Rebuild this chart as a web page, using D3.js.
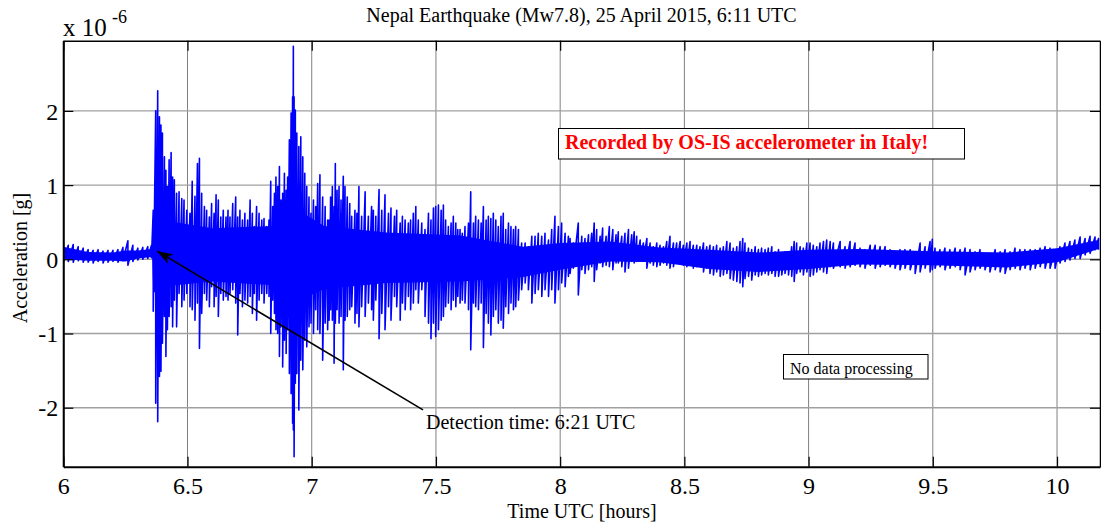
<!DOCTYPE html>
<html><head><meta charset="utf-8">
<script src="https://cdn.jsdelivr.net/npm/d3@7"></script>
<style>
html,body{margin:0;padding:0;background:#fff;}
svg{display:block;font-family:"Liberation Serif","Times New Roman",Times,serif;}
</style>
</head><body>
<svg id="c" width="1101" height="524"></svg>
<script>
// ---------------- DATA (acceleration in units of 1e-6 g, time in UTC hours) ----------------
const xTicks = [6, 6.5, 7, 7.5, 8, 8.5, 9, 9.5, 10];
const yTicks = [-2, -1, 0, 1, 2];
const xTickLabels = ["6", "6.5", "7", "7.5", "8", "8.5", "9", "9.5", "10"];
const yTickLabels = ["-2", "-1", "0", "1", "2"];

// envelope of the recorded trace: sample time, local max, local min
const traceT = [
  6.000,6.020,6.040,6.060,6.080,6.100,6.120,6.140,6.160,6.180,6.200,6.220,6.240,6.260,6.280,6.300,6.320,6.340,6.355,
  6.362,6.372,6.380,6.387,6.393,6.399,6.407,6.413,6.419,6.426,
  6.434,6.440,6.447,6.456,6.466,6.477,6.486,6.497,6.510,6.519,
  6.530,6.540,6.548,6.557,6.568,6.577,6.588,6.597,6.607,6.615,
  6.624,6.634,6.644,6.655,6.663,6.671,6.682,6.694,6.702,6.711,
  6.721,6.731,6.742,6.752,6.761,6.769,6.778,6.788,6.799,6.808,
  6.819,6.828,6.835,6.843,6.850,6.856,6.863,6.870,6.876,6.883,
  6.890,6.897,6.903,6.910,6.917,6.923,6.926,6.929,6.934,6.940,
  6.948,6.956,6.964,6.972,6.980,6.989,6.997,7.007,7.016,7.024,
  7.033,7.044,7.054,7.064,
  7.070,7.076,7.083,7.090,7.095,7.102,7.110,7.118,7.127,7.134,
  7.143,7.153,7.161,7.174,7.182,7.190,7.201,7.215,7.228,7.241,
  7.248,7.258,7.271,7.282,7.295,7.309,7.319,7.333,7.342,7.356,
  7.365,7.376,7.389,7.398,7.409,7.419,7.429,7.443,7.456,7.470,
  7.480,7.490,7.499,7.510,7.521,7.530,7.539,7.550,7.561,7.570,
  7.580,7.588,7.597,7.606,7.617,7.631,7.640,7.651,7.660,7.671,
  7.682,7.691,7.702,7.711,7.721,7.731,7.741,7.751,7.762,7.771,
  7.781,7.792,7.802,7.812,7.821,7.832,7.845,7.859,7.872,7.886,
  7.899,7.912,7.926,7.939,7.953,7.966,7.979,7.993,8.006,8.020,
  8.033,
  8.040,8.053,8.073,8.087,8.100,8.114,8.127,8.137,8.147,8.161,
  8.171,8.185,8.198,8.212,8.225,8.234,8.248,8.261,8.275,8.288,
  8.298,8.308,8.322,8.335,8.349,8.362,8.375,8.389,8.402,8.416,
  8.429,8.442,8.456,8.469,8.483,8.496,8.510,8.523,8.536,8.550,
  8.563,8.577,8.590,8.603,8.617,8.630,8.644,8.657,8.671,8.684,
  8.697,8.711,8.724,8.735,8.744,8.758,8.771,8.785,8.798,8.811,
  8.825,8.838,8.852,8.865,8.879,8.892,8.905,8.919,8.932,8.942,
  8.952,8.966,8.979,8.993,9.006,9.019,9.033,9.046,9.060,9.073,
  9.087,9.100,
  9.127,9.147,9.167,9.187,9.207,9.227,9.248,9.268,9.288,9.308,
  9.328,9.348,9.368,9.388,9.409,9.429,9.449,9.469,9.489,9.498,
  9.509,9.529,9.549,9.569,9.590,9.610,9.630,9.650,9.670,9.690,
  9.710,9.730,9.751,9.771,9.791,9.811,9.831,9.851,9.871,9.892,
  9.912,9.932,9.952,9.972,9.992,10.012,10.032,10.052,10.072,10.093,
  10.113,10.133,10.153,10.167
];
const traceHi = [
  0.22,0.19,0.20,0.17,0.15,0.13,0.12,0.13,0.11,0.12,0.12,0.13,0.16,0.25,0.19,0.15,0.16,0.17,0.19,
  0.66,2.00,2.27,1.92,1.81,1.70,1.38,1.20,0.98,1.34,
  1.44,1.11,1.07,0.89,0.91,0.82,0.80,0.66,0.62,1.05,
  0.85,1.29,1.36,0.89,0.71,0.66,0.57,0.75,0.62,0.87,
  0.80,0.57,0.66,0.57,0.66,0.57,0.75,0.84,0.57,0.66,
  0.53,0.62,0.53,0.80,0.62,0.44,0.71,0.62,0.53,0.55,
  0.44,0.53,1.05,0.71,0.89,1.11,0.98,1.25,0.80,0.89,
  1.16,0.93,1.11,1.61,1.97,2.19,2.87,2.19,2.01,1.70,
  1.52,1.65,1.38,1.16,0.98,0.84,0.62,0.80,0.71,1.02,
  1.14,0.84,0.71,0.53,
  0.53,0.84,0.98,0.71,1.29,0.93,0.98,0.80,1.12,0.98,
  0.84,0.75,0.58,0.66,0.62,0.98,0.58,0.91,0.58,0.71,
  0.66,0.58,0.94,0.66,0.87,0.62,0.69,0.58,0.66,0.49,
  0.58,0.53,0.49,0.53,0.62,0.71,0.53,0.49,0.40,0.62,
  0.53,0.69,0.71,0.73,0.66,0.73,0.53,0.44,0.49,0.58,
  0.49,0.40,0.40,0.35,0.44,0.49,0.91,0.49,0.58,0.53,
  0.49,0.71,0.53,0.58,0.55,0.62,0.53,0.44,0.58,0.62,
  0.40,0.49,0.44,0.40,0.44,0.40,0.22,0.22,0.17,0.31,
  0.31,0.35,0.31,0.35,0.26,0.40,0.58,0.44,0.49,0.35,
  0.31,
  0.28,0.22,0.49,0.31,0.28,0.33,0.35,0.49,0.40,0.31,
  0.42,0.31,0.44,0.40,0.33,0.37,0.31,0.35,0.40,0.33,
  0.37,0.31,0.26,0.22,0.28,0.22,0.17,0.22,0.19,0.17,
  0.24,0.31,0.22,0.22,0.24,0.19,0.22,0.24,0.19,0.19,
  0.17,0.22,0.17,0.19,0.17,0.19,0.15,0.17,0.24,0.22,
  0.15,0.17,0.24,0.28,0.22,0.15,0.13,0.17,0.13,0.15,
  0.13,0.15,0.17,0.10,0.13,0.08,0.10,0.08,0.17,0.24,
  0.22,0.17,0.15,0.22,0.22,0.19,0.17,0.22,0.24,0.26,
  0.24,0.22,
  0.24,0.17,0.24,0.22,0.15,0.13,0.19,0.19,0.17,0.17,
  0.13,0.10,0.13,0.13,0.13,0.10,0.22,0.17,0.24,0.27,
  0.15,0.13,0.15,0.13,0.15,0.13,0.15,0.13,0.10,0.13,
  0.06,0.08,0.13,0.10,0.13,0.10,0.15,0.13,0.13,0.13,
  0.13,0.15,0.17,0.15,0.13,0.17,0.22,0.24,0.26,0.30,
  0.28,0.31,0.30,0.28
];
const traceLo = [
  -0.04,-0.03,-0.04,-0.02,-0.04,-0.04,-0.05,-0.03,-0.05,-0.04,-0.03,-0.04,-0.02,-0.08,-0.03,-0.01,0.00,0.01,0.02,
  -0.70,-1.94,-2.19,-1.58,-1.51,-1.13,-0.77,-1.31,-0.95,-0.77,
  -0.64,-0.91,-0.55,-0.91,-0.46,-0.64,-0.55,-0.46,-0.64,-0.68,
  -0.82,-0.59,-1.20,-0.73,-0.46,-0.55,-0.64,-0.37,-0.64,-0.50,
  -0.77,-0.46,-0.55,-0.50,-0.55,-0.46,-0.41,-0.59,-1.02,-0.46,
  -0.64,-0.55,-0.59,-0.50,-0.73,-0.46,-0.82,-0.55,-0.46,-0.59,
  -0.46,-0.50,-1.00,-0.55,-0.73,-0.95,-1.00,-1.31,-0.91,-1.45,
  -1.09,-1.27,-0.95,-1.54,-1.81,-2.21,-2.30,-2.66,-1.67,-1.54,
  -2.03,-1.36,-1.49,-1.09,-1.18,-0.91,-0.86,-1.00,-0.68,-0.95,
  -1.00,-1.36,-0.86,-0.95,
  -0.82,-0.68,-0.82,-1.40,-0.86,-0.68,-0.86,-0.77,-1.49,-0.82,
  -0.77,-0.68,-0.64,-0.86,-0.73,-0.91,-0.64,-0.77,-0.59,-0.68,
  -0.82,-0.55,-1.07,-0.73,-0.95,-0.64,-0.82,-0.50,-0.64,-0.82,
  -0.59,-0.68,-0.50,-0.68,-0.59,-0.41,-0.59,-0.41,-0.77,-0.86,
  -1.07,-0.86,-1.04,-0.95,-0.82,-0.77,-0.64,-0.59,-0.68,-0.55,
  -0.64,-0.50,-0.59,-0.55,-0.59,-0.68,-1.22,-0.59,-0.64,-0.68,
  -0.59,-1.19,-0.73,-0.86,-1.02,-0.77,-0.68,-0.86,-0.82,-0.93,
  -0.64,-0.73,-0.59,-0.68,-0.64,-0.55,-0.41,-0.32,-0.41,-0.59,
  -0.46,-0.41,-0.50,-0.41,-0.50,-0.41,-0.59,-0.41,-0.32,-0.37,
  -0.23,
  -0.19,-0.12,-0.48,-0.14,-0.19,-0.14,-0.10,-0.30,-0.14,-0.05,
  -0.10,-0.08,-0.10,-0.14,-0.05,-0.05,-0.10,-0.17,-0.12,-0.03,
  -0.05,-0.03,-0.01,-0.01,-0.12,-0.05,-0.08,-0.10,-0.08,-0.05,
  -0.08,-0.12,-0.10,-0.05,-0.05,-0.08,-0.10,-0.08,-0.12,-0.10,
  -0.10,-0.17,-0.12,-0.19,-0.21,-0.17,-0.23,-0.21,-0.19,-0.26,
  -0.28,-0.30,-0.32,-0.37,-0.26,-0.23,-0.28,-0.21,-0.23,-0.21,
  -0.19,-0.21,-0.19,-0.23,-0.23,-0.21,-0.19,-0.21,-0.23,-0.30,
  -0.19,-0.17,-0.21,-0.17,-0.23,-0.21,-0.17,-0.14,-0.17,-0.19,
  -0.10,-0.12,
  -0.10,-0.12,-0.10,-0.08,-0.10,-0.12,-0.08,-0.12,-0.10,-0.08,
  -0.10,-0.12,-0.14,-0.12,-0.14,-0.19,-0.17,-0.12,-0.17,-0.14,
  -0.12,-0.10,-0.14,-0.12,-0.10,-0.14,-0.21,-0.17,-0.14,-0.12,
  -0.14,-0.17,-0.14,-0.17,-0.19,-0.14,-0.12,-0.14,-0.12,-0.14,
  -0.12,-0.10,-0.12,-0.12,-0.12,-0.05,-0.03,-0.01,0.01,0.01,
  0.06,0.08,0.13,0.13
];

// dense (solid) core of the trace
const coreT  = [6.000,6.100,6.200,6.250,6.300,6.358,6.362,6.450,6.600,6.850,6.950,7.050,7.300,7.600,7.850,8.000,8.200,8.400,8.600,8.800,9.000,9.200,9.500,9.800,10.000,10.167];
const coreHi = [0.17,0.10,0.09,0.12,0.12,0.14,0.55,0.50,0.42,0.45,0.65,0.45,0.36,0.32,0.17,0.22,0.24,0.16,0.13,0.09,0.13,0.14,0.11,0.09,0.15,0.26];
const coreLo = [0.00,-0.02,-0.02,-0.03,0.01,0.03,-0.45,-0.35,-0.30,-0.35,-0.55,-0.40,-0.32,-0.30,-0.24,-0.14,-0.03,-0.04,-0.13,-0.17,-0.13,-0.07,-0.08,-0.11,-0.04,0.14];

// annotation arrow (data units): from the label to the detection point
const arrowFrom = [7.448, -2.03];
const arrowTo   = [6.378, 0.11];

// ---------------- CHART ----------------
const svg = d3.select('#c');
const L = 63.3, R = 1100, T = 40.7, B = 466.7;
const x = d3.scaleLinear().domain([6, 10.173]).range([L, R]);
const y = d3.scaleLinear().domain([-2.795, 2.946]).range([B, T]);

svg.append('rect').attr('width', 1101).attr('height', 524).attr('fill', '#fff');

const defs = svg.append('defs');
defs.append('clipPath').attr('id', 'clip').append('rect')
  .attr('x', L).attr('y', T).attr('width', R - L).attr('height', B - T);
defs.append('marker').attr('id', 'ah')
  .attr('viewBox', '0 0 16 11').attr('refX', 15.5).attr('refY', 5.5)
  .attr('markerWidth', 16).attr('markerHeight', 11)
  .attr('markerUnits', 'userSpaceOnUse').attr('orient', 'auto')
  .append('path').attr('d', 'M0,0 L16,5.5 L0,11 L4,5.5 Z').attr('fill', '#000');

// grid
const grid = svg.append('g');
grid.selectAll('line.vx').data(xTicks).join('line')
  .attr('x1', d => x(d)).attr('x2', d => x(d)).attr('y1', T).attr('y2', B)
  .attr('stroke', '#808080').attr('stroke-width', 1);
grid.selectAll('line.hy').data(yTicks).join('line')
  .attr('y1', d => y(d)).attr('y2', d => y(d)).attr('x1', L).attr('x2', R)
  .attr('stroke', '#a0a0a0').attr('stroke-width', 1.4);

// data
const plot = svg.append('g').attr('clip-path', 'url(#clip)');
const core = coreT.map((t, i) => ({t, hi: coreHi[i], lo: coreLo[i]}));
plot.append('path').datum(core)
  .attr('d', d3.area().x(d => x(d.t)).y0(d => y(d.lo)).y1(d => y(d.hi)))
  .attr('fill', '#0000ff');

const pts = [];
traceT.forEach((t, i) => { pts.push([t, traceHi[i]]); pts.push([t, traceLo[i]]); });
plot.append('path').datum(pts)
  .attr('d', d3.line().x(d => x(d[0])).y(d => y(d[1])))
  .attr('fill', 'none').attr('stroke', '#0000ff').attr('stroke-width', 1.6)
  .attr('stroke-linejoin', 'round');

// axes
function styleAxis(g, w) {
  g.select('.domain').attr('stroke', '#000').attr('stroke-width', w);
  g.selectAll('.tick line').attr('stroke', '#000').attr('stroke-width', 1.2);
}
const fmtX = d => xTickLabels[xTicks.indexOf(d)];
const fmtY = d => yTickLabels[yTicks.indexOf(d)];

const gx = svg.append('g').attr('transform', `translate(0,${B})`)
  .call(d3.axisBottom(x).tickValues(xTicks).tickSize(-10).tickSizeOuter(0).tickFormat(fmtX));
styleAxis(gx, 2);
gx.selectAll('.tick text').attr('y', 27.5).attr('dy', 0)
  .attr('font-size', 24).attr('fill', '#000').attr('font-family', '"Liberation Serif", serif');

const gxt = svg.append('g').attr('transform', `translate(0,${T})`)
  .call(d3.axisTop(x).tickValues(xTicks).tickSize(-10).tickSizeOuter(0).tickFormat(''));
styleAxis(gxt, 1.5);

const gy = svg.append('g').attr('transform', `translate(${L},0)`)
  .call(d3.axisLeft(y).tickValues(yTicks).tickSize(-10).tickSizeOuter(0).tickFormat(fmtY));
styleAxis(gy, 2);
gy.selectAll('.tick text').attr('x', -5).attr('dy', '0.34em')
  .attr('font-size', 24).attr('fill', '#000').attr('font-family', '"Liberation Serif", serif');

const gyr = svg.append('g').attr('transform', `translate(${R},0)`)
  .call(d3.axisRight(y).tickValues(yTicks).tickSize(-10).tickSizeOuter(0).tickFormat(''));
styleAxis(gyr, 1.5);

// exponent
svg.append('text').attr('x', 63).attr('y', 35.5).attr('font-size', 25).text('x 10');
svg.append('text').attr('x', 112).attr('y', 23.3).attr('font-size', 18).text('-6');

// title + labels
svg.append('text').attr('x', 581.5).attr('y', 21.5).attr('text-anchor', 'middle')
  .attr('font-size', 20).text('Nepal Earthquake (Mw7.8), 25 April 2015, 6:11 UTC');
svg.append('text').attr('x', 582).attr('y', 518).attr('text-anchor', 'middle')
  .attr('font-size', 20).text('Time UTC [hours]');
svg.append('text').attr('transform', 'translate(27,258) rotate(-90)').attr('text-anchor', 'middle')
  .attr('font-size', 20).text('Acceleration [g]');

// text boxes
svg.append('rect').attr('x', 558.5).attr('y', 128.5).attr('width', 406).attr('height', 30.5)
  .attr('fill', '#fff').attr('stroke', '#000').attr('stroke-width', 1);
svg.append('text').attr('x', 565).attr('y', 149.3).attr('font-size', 20).attr('font-weight', 'bold')
  .attr('fill', '#ff0000').text('Recorded by OS-IS accelerometer in Italy!');

svg.append('rect').attr('x', 783.5).attr('y', 354.5).attr('width', 144.5).attr('height', 24.5)
  .attr('fill', '#fff').attr('stroke', '#000').attr('stroke-width', 1);
svg.append('text').attr('x', 790).attr('y', 374.3).attr('font-size', 16).text('No data processing');

// arrow + detection label
svg.append('line')
  .attr('x1', x(arrowFrom[0])).attr('y1', y(arrowFrom[1]))
  .attr('x2', x(arrowTo[0])).attr('y2', y(arrowTo[1]))
  .attr('stroke', '#000').attr('stroke-width', 1.6).attr('marker-end', 'url(#ah)');
svg.append('text').attr('x', 426).attr('y', 428.5).attr('font-size', 20).text('Detection time: 6:21 UTC');
</script>
</body></html>
